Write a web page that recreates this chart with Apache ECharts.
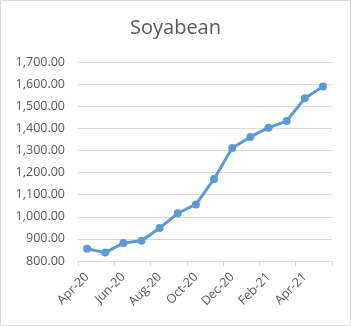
<!DOCTYPE html>
<html><head><meta charset="utf-8">
<script src="https://cdn.jsdelivr.net/npm/echarts@6/dist/echarts.min.js"></script>
<style>html,body{margin:0;padding:0;background:#fff}#c{width:351px;height:326px}</style>
</head><body><div id="c"></div>
<script>
const categories = ['Apr-20','May-20','Jun-20','Jul-20','Aug-20','Sep-20','Oct-20','Nov-20','Dec-20','Jan-21','Feb-21','Mar-21','Apr-21','May-21'];
const values = [855, 838, 881, 892, 949, 1016, 1056, 1171, 1311, 1361, 1403, 1433, 1536, 1589];
const yTicks = {min: 800, max: 1700, interval: 100};
const titleText = 'Soyabean';

const chart = echarts.init(document.getElementById('c'), null, {renderer: 'canvas'});
chart.setOption({
  animation: false,
  backgroundColor: '#fff',
  graphic: [{type:'rect', shape:{x:0.5,y:0.5,width:350,height:325}, style:{fill:'none', stroke:'#d9d9d9', lineWidth:1}, silent:true}],
  title: {text: titleText, left: 'center', top: 13, textStyle: {fontFamily: 'Open Sans', fontSize: 20, fontWeight: 'normal', color: '#595959'}},
  grid: {left: 78, right: 19, top: 62, bottom: 65},
  xAxis: {
    type: 'category', data: categories, boundaryGap: true,
    axisLine: {lineStyle: {color: '#d9d9d9'}},
    axisTick: {show: true, interval: 1, length: 5, lineStyle: {color: '#d9d9d9'}},
    axisLabel: {interval: 1, rotate: 45, color: '#595959', fontFamily: 'Open Sans', fontSize: 12.5, margin: 14}
  },
  yAxis: {
    type: 'value', min: yTicks.min, max: yTicks.max, interval: yTicks.interval,
    axisLine: {show: false}, axisTick: {show: false},
    splitLine: {lineStyle: {color: '#d9d9d9'}},
    axisLabel: {color: '#595959', fontFamily: 'Open Sans', fontSize: 12.5, margin: 13,
      formatter: v => v.toLocaleString('en-US', {minimumFractionDigits: 2, maximumFractionDigits: 2})}
  },
  series: [{
    type: 'line', data: values, symbol: 'circle', symbolSize: 8,
    lineStyle: {color: '#5B9BD5', width: 3},
    itemStyle: {color: '#5B9BD5'}
  }]
});
</script></body></html>
